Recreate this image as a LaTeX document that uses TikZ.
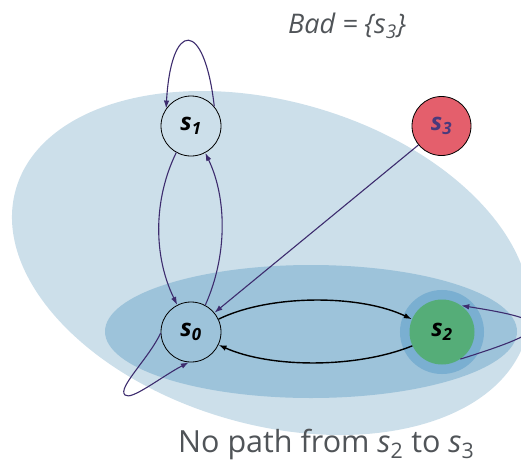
\documentclass[tikz,border=0pt]{standalone}
\usepackage{fontspec}
\setmainfont{Open Sans}
\usetikzlibrary{arrows.meta}

\definecolor{regionlight}{HTML}{CCDFEA}
\definecolor{regiondark}{HTML}{9DC3DA}
\definecolor{halo}{HTML}{7AAFD1}
\definecolor{goodgreen}{HTML}{55AD78}
\definecolor{badred}{HTML}{E45F6C}
\definecolor{edgepurple}{HTML}{3D2C6E}
\definecolor{labelpurple}{HTML}{4A3A7C}
\definecolor{textgray}{HTML}{505458}

\tikzset{
  state/.style={circle, minimum size=60pt, inner sep=0pt,
    font=\bfseries\itshape\fontsize{24}{24}\selectfont},
  ringed/.style={state, draw=black, line width=0.8pt},
  parrow/.style={draw=edgepurple, line width=1.1pt,
    -{Latex[length=8pt,width=5.5pt]}},
  barrow/.style={draw=black, line width=1.4pt,
    -{Latex[length=8pt,width=5.5pt]}},
  caption/.style={anchor=base west, text=textgray, inner sep=0pt}
}

\begin{document}
\begin{tikzpicture}[x=1pt,y=1pt]
\useasboundingbox (0,0) rectangle (521,-463);

% nested regions
\fill[regionlight, rotate around={-16.2:(271,-263)}]
  (271,-263) ellipse [x radius=265.6, y radius=161.6];
\fill[regiondark] (311,-331.5) ellipse [x radius=206, y radius=66.5];

% states
\node[ringed] (s1) at (191,-126) {s\textsubscript{1}};
\node[ringed] (s0) at (191,-332) {s\textsubscript{0}};
\node[state, minimum size=65pt, fill=goodgreen,
      preaction={draw=halo, line width=19pt}] (s2) at (442,-332) {s\textsubscript{2}};
\node[ringed, minimum size=59pt, fill=badred, text=labelpurple] (s3) at (441.5,-126) {s\textsubscript{3}};

% turning point of the self-loop on s0
\coordinate (loop0) at (125,-395);

% transitions
\draw[parrow] (s1.40) .. controls +(-10,88) and +(5,89) .. (s1.145);
\draw[parrow] (s1.241) .. controls +(-23,-47) and +(-24,49) .. (s0.117);
\draw[parrow] (s0.62) .. controls +(22,49) and +(22,-46) .. (s1.298);
\draw[parrow] (s3) -- (s0);
\draw[parrow] (s0.182) .. controls +(-11.5,-25) and +(-8,7) .. (loop0)
                       .. controls +(6,-6) and +(-27,-14) .. (s0.266);
\draw[barrow] (s0.25) .. controls +(51,25) and +(-52,25) .. (s2.157);
\draw[barrow] (s2.205) .. controls +(-57,-23) and +(51,-23) .. (s0.335);
\draw[parrow] (s2.304) .. controls +(96,30) and +(95,-15) .. (s2.54);

% captions
\node[caption, font=\itshape\fontsize{27}{27}\selectfont] (bad) at (288,-33)
  {Bad = \{s\textsubscript{3}\}};
\node[caption, font=\fontsize{30.5}{30.5}\selectfont] (msg) at (178,-452)
  {No path from \textit{s}\textsubscript{2} to \textit{s}\textsubscript{3}};
\end{tikzpicture}
\end{document}
